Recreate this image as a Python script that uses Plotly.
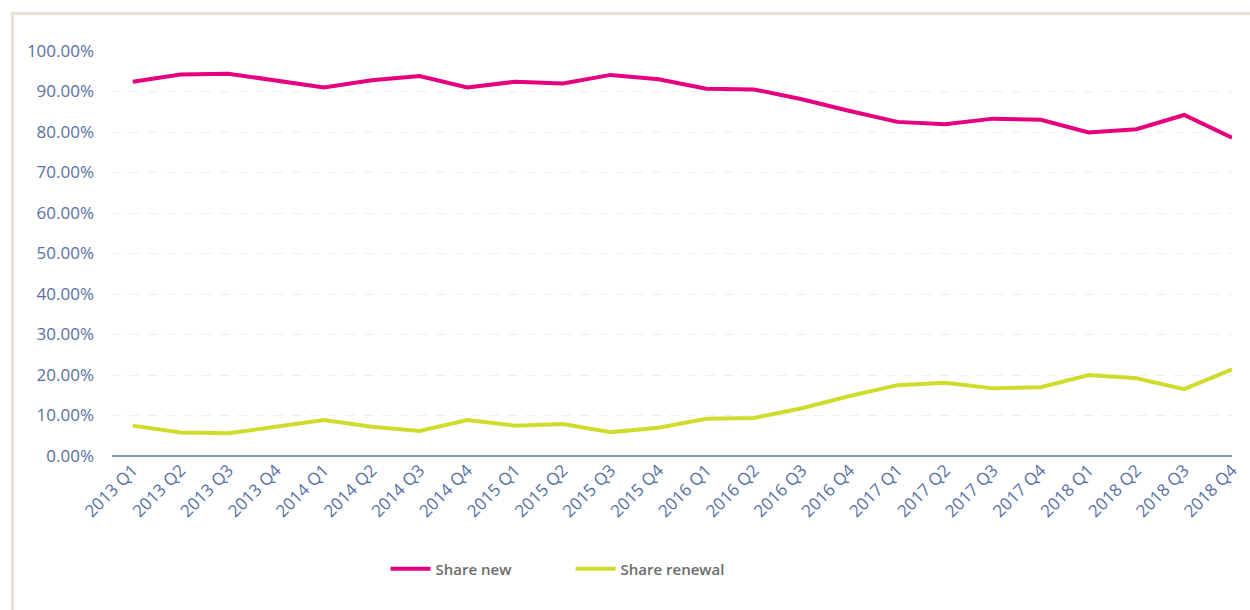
import plotly.graph_objects as go

categories = ["2013 Q1", "2013 Q2", "2013 Q3", "2013 Q4",
              "2014 Q1", "2014 Q2", "2014 Q3", "2014 Q4",
              "2015 Q1", "2015 Q2", "2015 Q3", "2015 Q4",
              "2016 Q1", "2016 Q2", "2016 Q3", "2016 Q4",
              "2017 Q1", "2017 Q2", "2017 Q3", "2017 Q4",
              "2018 Q1", "2018 Q2", "2018 Q3", "2018 Q4"]

share_new = [0.924, 0.942, 0.944, 0.928, 0.910, 0.928, 0.938, 0.910,
             0.924, 0.920, 0.941, 0.930, 0.907, 0.905, 0.881, 0.852,
             0.825, 0.819, 0.833, 0.830, 0.799, 0.807, 0.842, 0.786]

share_renewal = [0.075, 0.058, 0.056, 0.072, 0.089, 0.072, 0.062, 0.089,
                 0.075, 0.079, 0.059, 0.070, 0.092, 0.094, 0.118, 0.148,
                 0.175, 0.181, 0.167, 0.170, 0.200, 0.192, 0.165, 0.214]

series_names = ["Share new", "Share renewal"]
series_colors = ["#e6007e", "#cfdc2c"]

W, H = 1250, 610
L, R, T, B = 112, 8, 51, 154
pw, ph = W - L - R, H - T - B

def px_x(p):
    return (p - L) / pw

def px_y(p):
    return (H - B - p) / ph

fig = go.Figure()
for name, vals, col in zip(series_names, [share_new, share_renewal], series_colors):
    fig.add_trace(go.Scatter(x=categories, y=vals, mode="lines", name=name,
                             line=dict(color=col, width=4)))

tick_font = dict(family="Open Sans, Liberation Sans, sans-serif", size=17, color="#5670a4")

fig.update_layout(
    width=W, height=H,
    margin=dict(l=L, r=R, t=T, b=B),
    paper_bgcolor="white", plot_bgcolor="white",
    showlegend=True,
    legend=dict(orientation="h", x=px_x(388), xanchor="left", y=px_y(569), yanchor="middle",
                font=dict(family="Open Sans, sans-serif", size=15, color="#6b6b6b", weight=600),
                entrywidth=130, itemwidth=40),
    xaxis=dict(type="category", range=[-0.435, 23.0], tickangle=-45,
               tickfont=tick_font, showgrid=False, showline=False, zeroline=False,
               ticks=""),
    yaxis=dict(range=[0, 1.0], dtick=0.1, tickformat=".2%", tickfont=tick_font,
               showgrid=True, gridcolor="#eeeeee", griddash="dash", gridwidth=1,
               zeroline=False, showline=False, ticks="", ticklabelstandoff=17),
    shapes=[
        dict(type="line", xref="paper", yref="paper", x0=px_x(112), x1=px_x(1242),
             y0=0, y1=0, line=dict(color="#5670a4", width=1.5), layer="above"),
        dict(type="rect", xref="paper", yref="paper", x0=px_x(11.5), x1=px_x(1265),
             y0=px_y(13.5), y1=px_y(630), line=dict(color="#e6dfd6", width=3),
             fillcolor="rgba(0,0,0,0)", layer="below"),
    ],
)

fig.write_html("out.html")
